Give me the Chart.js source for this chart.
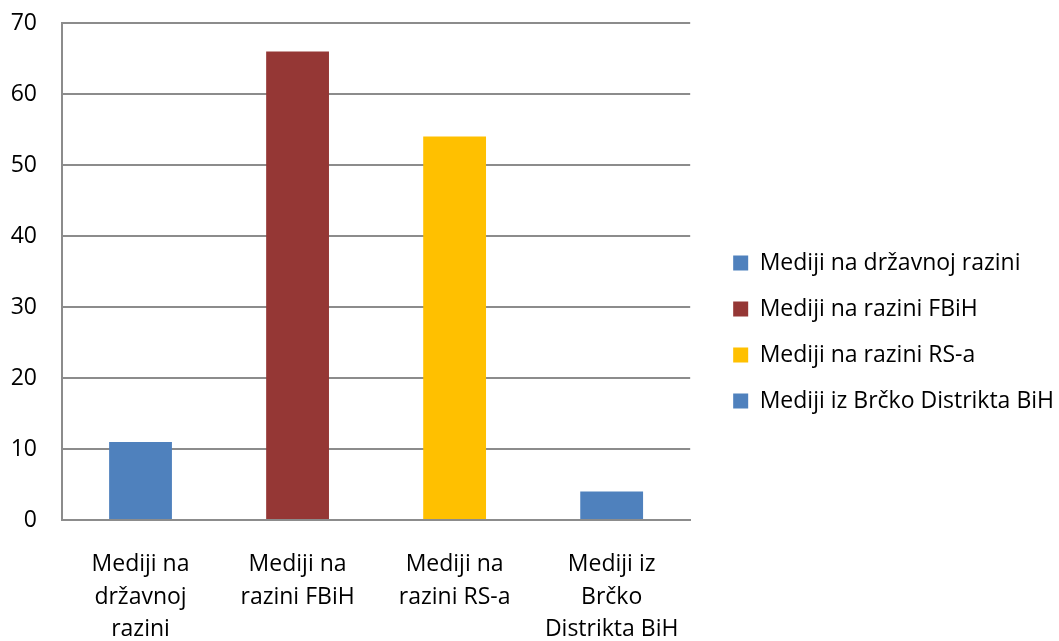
<!DOCTYPE html>
<html>
<head>
<meta charset="utf-8">
<script src="https://cdn.jsdelivr.net/npm/chart.js@4"></script>
<style>
  html, body { margin: 0; padding: 0; background: #fff; }
  #wrap { width: 1059px; height: 641px; }
</style>
</head>
<body>
<div id="wrap"><canvas id="chart"></canvas></div>
<script>
const categories = [
  ['Mediji na', 'državnoj', 'razini'],
  ['Mediji na', 'razini FBiH'],
  ['Mediji na', 'razini RS-a'],
  ['Mediji iz', 'Brčko', 'Distrikta BiH']
];
const legendNames = [
  'Mediji na državnoj razini',
  'Mediji na razini FBiH',
  'Mediji na razini RS-a',
  'Mediji iz Brčko Distrikta BiH'
];
const values = [11, 66, 54, 4];
const colors = ['#4f81bd', '#953735', '#ffc000', '#4f81bd'];
const yTicks = [0, 10, 20, 30, 40, 50, 60, 70];

const FONT = { family: 'Open Sans', size: 23 };
const GRID = '#8c8c8c';

new Chart(document.getElementById('chart'), {
  type: 'bar',
  data: {
    labels: categories,
    datasets: [{
      data: values,
      backgroundColor: colors,
      barPercentage: 0.4,
      categoryPercentage: 1
    }]
  },
  options: {
    responsive: true,
    maintainAspectRatio: false,
    animation: false,
    layout: { padding: { top: 23, left: 0, right: -5, bottom: 0 } },
    plugins: {
      tooltip: { enabled: false },
      legend: {
        position: 'right',
        maxWidth: 420,
        labels: {
          font: FONT,
          color: '#000',
          boxWidth: 15,
          boxHeight: 15,
          padding: 23,
          generateLabels: () => legendNames.map((name, i) => ({
            text: name,
            fillStyle: colors[i],
            strokeStyle: colors[i],
            lineWidth: 0,
            index: i
          }))
        },
        onClick: null
      }
    },
    scales: {
      x: {
        grid: { display: false, drawTicks: false },
        border: { color: GRID, width: 2 },
        ticks: {
          font: { ...FONT, lineHeight: 1.42 },
          color: '#000',
          padding: 28,
          maxRotation: 0,
          autoSkip: false
        },
        afterFit: s => { s.height = 121; }
      },
      y: {
        min: 0,
        max: 70,
        afterBuildTicks: s => { s.ticks = yTicks.map(v => ({ value: v })); },
        grid: { color: GRID, lineWidth: 2, drawTicks: false },
        border: { color: GRID, width: 2 },
        ticks: { font: FONT, color: '#000', padding: 25 },
        afterFit: s => { s.width = 62; s.paddingTop = 0; s.paddingBottom = 0; }
      },
      gap: {
        position: 'right',
        display: true,
        grid: { display: false, drawTicks: false },
        border: { display: false },
        ticks: { display: false },
        afterFit: s => { s.width = 20; s.paddingTop = 0; s.paddingBottom = 0; }
      }
    }
  }
});
</script>
</body>
</html>
